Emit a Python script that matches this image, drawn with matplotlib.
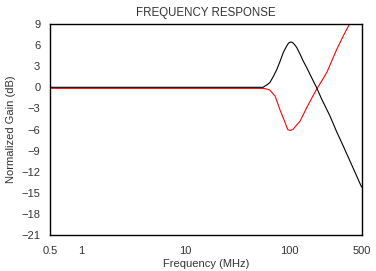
import matplotlib
matplotlib.use("Agg")
import matplotlib.pyplot as plt

plt.rcParams['font.family'] = ['Liberation Sans', 'DejaVu Sans']

# frequency (MHz) and normalized gain (dB)
f_black = [0.5, 1, 10, 40, 56, 58.5, 60.6, 65, 70, 76, 82, 87.5, 93, 98, 100, 104, 107.5, 112, 118, 127, 136,
           147, 158, 170, 183, 205, 225, 246, 285, 330, 400, 489, 500]
g_black = [0, 0, 0, 0, 0, 0.2, 0.33, 0.67, 1.5, 2.56, 3.8, 4.94, 5.7, 6.26, 6.36, 6.44, 6.36, 6.1, 5.65, 4.7, 3.74,
           2.8, 1.85, 0.9, -0.05, -1.7, -2.9, -4.08, -6.3, -8.35, -11.1, -14.0, -14.2]

f_red = [0.5, 1, 10, 40, 56, 58.5, 62.6, 65, 73, 81, 86, 91, 96.5, 100, 104, 109, 112.5, 127, 147, 165, 183,
         205, 229, 256, 286, 330, 378, 500]
g_red = [-0.15, -0.15, -0.15, -0.15, -0.15, -0.2, -0.3, -0.4, -1.24, -3.13, -4.1, -5.0, -6.0, -6.1, -6.1, -5.97,
         -5.7, -4.8, -2.9, -1.5, -0.28, 0.9, 2.09, 3.75, 5.4, 7.3, 8.96, 12.8]

xticks = [0.5, 1, 10, 100, 500]
xlabels = ['0.5', '1', '10', '100', '500']
yticks = list(range(-21, 10, 3))

fig = plt.figure(figsize=(3.76, 2.71), dpi=100)
ax = fig.add_axes([50/376, 1-235/271, 312/376, 211/271])
ax.plot(f_red, g_red, color='#ff0000', lw=0.8)
ax.plot(f_black, g_black, color='black', lw=0.8)
ax.set_xscale('log')
ax.set_xlim(0.5, 500)
ax.set_ylim(-21, 9)
ax.set_xticks(xticks)
ax.set_xticklabels(xlabels)
ax.minorticks_off()
ax.set_yticks(yticks)
ax.tick_params(length=0, labelsize=8, colors='#333333', pad=7)
ax.tick_params(axis='x', pad=8)
for s in ax.spines.values():
    s.set_linewidth(1.0)
ax.set_title('FREQUENCY RESPONSE', fontsize=8.3, color='#333333', pad=6)
ax.set_xlabel('Frequency (MHz)', fontsize=8, color='#333333', labelpad=2)
ax.set_ylabel('Normalized Gain (dB)', fontsize=8, color='#333333', labelpad=4)
fig.savefig('out.png', dpi=100)
